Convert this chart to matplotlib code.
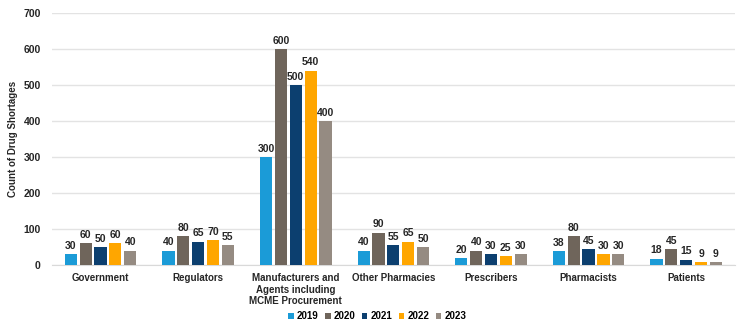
import matplotlib
matplotlib.use('Agg')

import matplotlib.pyplot as plt
import numpy as np

plt.rcParams['font.family'] = ['Liberation Sans', 'DejaVu Sans']
plt.rcParams['font.weight'] = 'bold'

categories = ['Government', 'Regulators', 'Manufacturers and\nAgents including\nMCME Procurement',
              'Other Pharmacies', 'Prescribers', 'Pharmacists', 'Patients']
years = ['2019', '2020', '2021', '2022', '2023']
v2019 = [30, 40, 300, 40, 20, 38, 18]
v2020 = [60, 80, 600, 90, 40, 80, 45]
v2021 = [50, 65, 500, 55, 30, 45, 15]
v2022 = [60, 70, 540, 65, 25, 30, 9]
v2023 = [40, 55, 400, 50, 30, 30, 9]
series = [v2019, v2020, v2021, v2022, v2023]
colors = ['#1B9BD7', '#6F655B', '#0C3F6F', '#FFA600', '#958B82']

fig = plt.figure(figsize=(7.5, 3.33), dpi=100)
ax = fig.add_axes([0.069, 0.204, 0.911, 0.757])

x = np.arange(len(categories))
step = 0.152
width = 0.125
for i, (vals, col, yr) in enumerate(zip(series, colors, years)):
    pos = x + (i - 2) * step
    bars = ax.bar(pos, vals, width, color=col, label=yr, zorder=3)
    for b, v in zip(bars, vals):
        ax.text(b.get_x() + b.get_width() / 2, v + 9, str(v), ha='center', va='bottom',
                fontsize=7.5, fontweight='bold', color='#262626')

ax.set_ylim(0, 700)
ax.set_xlim(-0.5, len(categories) - 0.5)
ax.set_yticks(np.arange(0, 701, 100))
ax.yaxis.grid(True, color='#E3E3E3', linewidth=1, zorder=0)
ax.set_xticks(x)
ax.set_xticklabels(categories, fontsize=7, fontweight='bold', color='#262626', linespacing=1.15)
ax.tick_params(axis='y', labelsize=7.5, colors='#262626', length=0, pad=8)
ax.tick_params(axis='x', length=0, pad=6)
for s in ['top', 'right', 'left']:
    ax.spines[s].set_visible(False)
ax.spines['bottom'].set_color('#D9D9D9')
ax.set_ylabel('Count of Drug Shortages', fontsize=7, fontweight='bold', color='#262626')

handles, labels = ax.get_legend_handles_labels()
fig.legend(handles, labels, loc='center', bbox_to_anchor=(0.503, 0.051), ncol=5, frameon=False,
           fontsize=7, handlelength=0.55, handleheight=0.55, handletextpad=0.3,
           columnspacing=0.7, borderpad=0)

plt.savefig('out.png', dpi=100)
plt.close()
